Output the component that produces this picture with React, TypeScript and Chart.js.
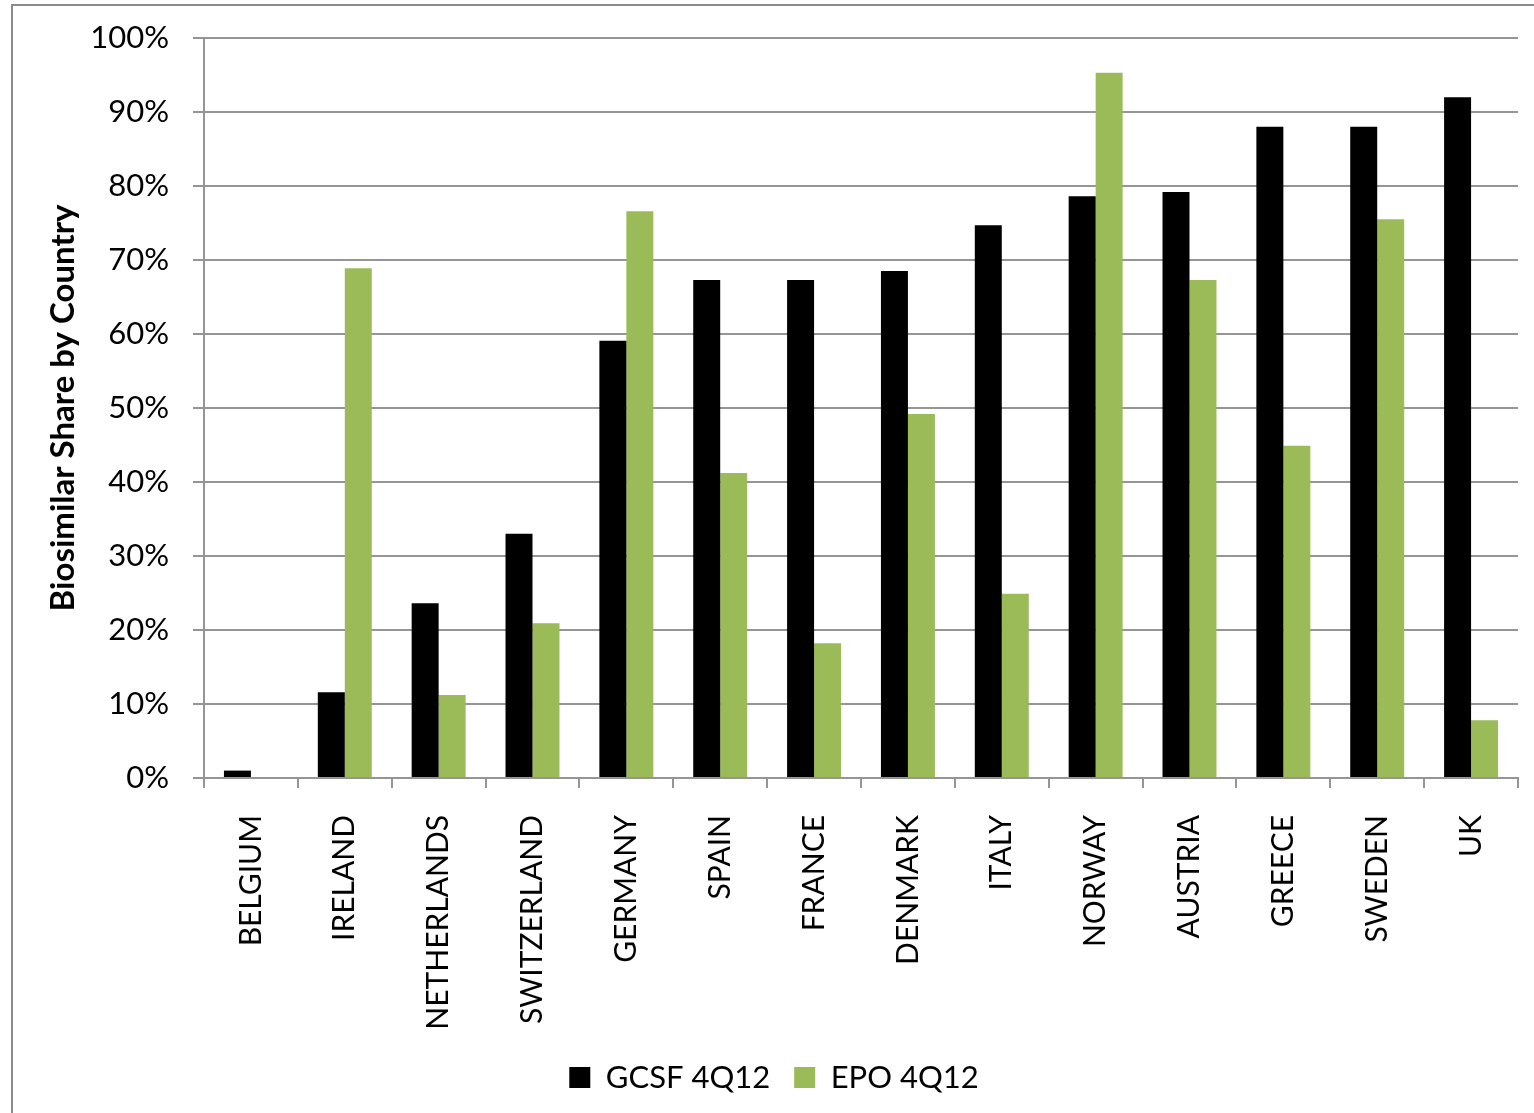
import React, { useEffect, useRef } from "react";
import { Chart, registerables } from "chart.js";

Chart.register(...registerables);

const countries = [
  "BELGIUM", "IRELAND", "NETHERLANDS", "SWITZERLAND", "GERMANY", "SPAIN", "FRANCE",
  "DENMARK", "ITALY", "NORWAY", "AUSTRIA", "GREECE", "SWEDEN", "UK",
];
const gcsf4Q12 = [1.0, 11.6, 23.6, 33.0, 59.1, 67.3, 67.3, 68.5, 74.7, 78.6, 79.2, 88.0, 88.0, 92.0];
const epo4Q12 = [0, 68.9, 11.2, 20.9, 76.6, 41.2, 18.2, 49.2, 24.9, 95.3, 67.3, 44.9, 75.5, 7.8];
const seriesNames = ["GCSF 4Q12", "EPO 4Q12"];
const axisTitle = "Biosimilar Share by Country";

const W = 1534;
const H = 1113;
const GRID = "#959595";
const FONT = "Lato";

// thin frame around the whole chart (left and top edges)
const framePlugin = {
  id: "frame",
  beforeDraw(chart: any) {
    const ctx = chart.ctx;
    ctx.save();
    ctx.strokeStyle = "#8a8a8a";
    ctx.lineWidth = 2;
    ctx.beginPath();
    ctx.moveTo(12, H);
    ctx.lineTo(12, 5);
    ctx.lineTo(W, 5);
    ctx.stroke();
    ctx.restore();
  },
};

export default function App() {
  const ref = useRef<HTMLCanvasElement | null>(null);

  useEffect(() => {
    if (!ref.current) return;
    const chart = new Chart(ref.current, {
      type: "bar",
      data: {
        labels: countries,
        datasets: [
          { label: seriesNames[0], data: gcsf4Q12, backgroundColor: "#000000" },
          { label: seriesNames[1], data: epo4Q12, backgroundColor: "#9BBB59" },
        ],
      },
      options: {
        responsive: false,
        animation: false,
        layout: { padding: { top: 38, right: 16, bottom: 10, left: 30 } },
        datasets: { bar: { barPercentage: 1, categoryPercentage: 0.575 } },
        plugins: {
          tooltip: { enabled: false },
          legend: {
            position: "bottom",
            labels: {
              color: "#000",
              font: { family: FONT, size: 31 },
              boxWidth: 21,
              boxHeight: 21,
              padding: 24,
            },
          },
        },
        scales: {
          x: {
            grid: {
              display: true,
              drawOnChartArea: false,
              drawTicks: true,
              tickLength: 10,
              color: GRID,
              lineWidth: 2,
              offset: true,
            },
            border: { display: true, color: GRID, width: 2 },
            ticks: {
              color: "#000",
              font: { family: FONT, size: 30 },
              minRotation: 90,
              maxRotation: 90,
              autoSkip: false,
              padding: 27,
            },
            afterFit(scale: any) {
              scale.height = 260;
              scale.paddingLeft = 0;
              scale.paddingRight = 0;
            },
          },
          y: {
            min: 0,
            max: 100,
            grid: { color: GRID, lineWidth: 2, tickLength: 11, drawTicks: true },
            border: { display: true, color: GRID, width: 2 },
            ticks: {
              stepSize: 10,
              color: "#000",
              font: { family: FONT, size: 31 },
              padding: 24,
              callback: (v: any) => `${v}%`,
            },
            title: {
              display: true,
              text: axisTitle,
              color: "#000",
              font: { family: FONT, size: 33, weight: "bold" },
              padding: { top: 14, bottom: 0 },
            },
            afterFit(scale: any) {
              scale.width = 174;
              scale.paddingTop = 0;
              scale.paddingBottom = 0;
            },
          },
        },
      },
      plugins: [framePlugin],
    } as any);
    return () => chart.destroy();
  }, []);

  return (
    <div style={{ position: "fixed", left: 0, top: 0, width: W, height: H, background: "#fff" }}>
      <canvas ref={ref} width={W} height={H} style={{ width: W, height: H, display: "block" }} />
    </div>
  );
}
